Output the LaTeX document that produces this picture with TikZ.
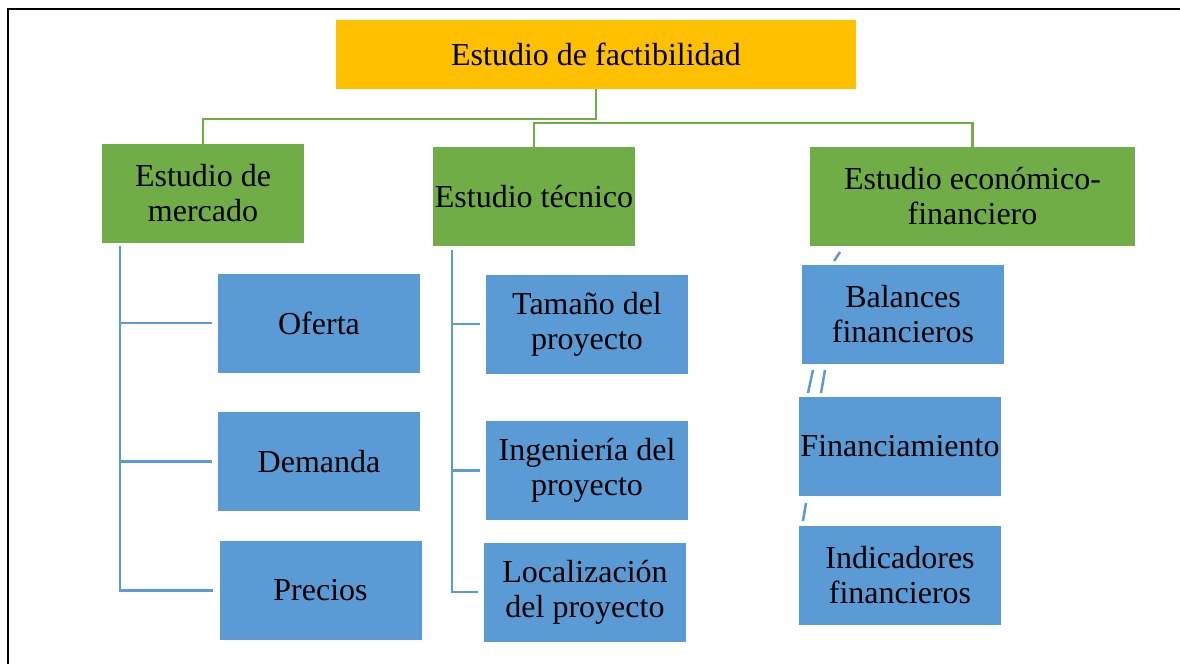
\documentclass[tikz,border=0pt]{standalone}
\usepackage{fontspec}
\setmainfont{Liberation Serif}
\usepackage{xcolor}
\definecolor{naranja}{HTML}{FFC000}
\definecolor{verde}{HTML}{70AD47}
\definecolor{azul}{HTML}{5B9BD5}
\begin{document}
\begin{tikzpicture}[x=1pt,y=-1pt,
        caja/.style={inner sep=0pt,minimum width=202pt,minimum height=99pt,align=center,font=\fontsize{32}{35}\selectfont},
        verdebox/.style={caja,fill=verde},
        azulbox/.style={caja,fill=azul},
        vline/.style={draw=verde,line width=2.5pt},
        aline/.style={draw=azul,line width=2.5pt}]
        \useasboundingbox (0,0) rectangle (1180,664);
        \draw[line width=1.6pt] (8,664) -- (8,9) -- (1180,9);
        \node[caja,fill=naranja,minimum width=520pt,minimum height=69pt](fact) at (596,54.5) {Estudio de factibilidad};
        \node[verdebox](merc) at (203,193) {Estudio de\\mercado};
        \node[verdebox](tec) at (534,196.5) {Estudio técnico};
        \node[verdebox,minimum width=325pt](eco) at (972.5,196.5) {Estudio económico-\\financiero};
        \node[azulbox](ofe) at (319,323) {Oferta};
        \node[azulbox](dem) at (319,461.5) {Demanda};
        \node[azulbox](pre) at (320.5,590.5) {Precios};
        \node[azulbox](tam) at (587,324) {Tamaño del\\proyecto};
        \node[azulbox](ing) at (587,470.5) {Ingeniería del\\proyecto};
        \node[azulbox](loc) at (585,592) {Localización\\del proyecto};
        \node[azulbox](bal) at (903,314.5) {Balances\\financieros};
        \node[azulbox](fin) at (900,446.5) {Financiamiento};
        \node[azulbox](ind) at (900,575.5) {Indicadores\\financieros};
        \coordinate(bus) at (596,123);
        \coordinate(tronco1) at (120,246);
        \coordinate(tronco2) at (452,250);
        \draw[vline] (fact.south) -- (596,119) -| ([yshift=-4pt]merc.north);
        \draw[vline] ([yshift=-4pt]tec.north) |- (bus) -| ([yshift=-4pt]eco.north);
        \draw[aline] (tronco1) |- ([xshift=-6pt]pre.west);
        \draw[aline] ([xshift=-6pt]ofe.west) -- (ofe.west -| tronco1);
        \draw[aline] ([xshift=-6pt]dem.west) -- (dem.west -| tronco1);
        \draw[aline] (tronco2) |- ([xshift=-6pt]loc.west);
        \draw[aline] ([xshift=-6pt]tam.west) -- (tam.west -| tronco2);
        \draw[aline] ([xshift=-6pt]ing.west) -- (ing.west -| tronco2);
        \draw[aline] (834,261) -- (840,252);
        \draw[aline] (808,393) -- (813,370);
        \draw[aline] (821,393) -- (825,370);
        \draw[aline] (803,521) -- (806,503);
        \end{tikzpicture}
\end{document}
